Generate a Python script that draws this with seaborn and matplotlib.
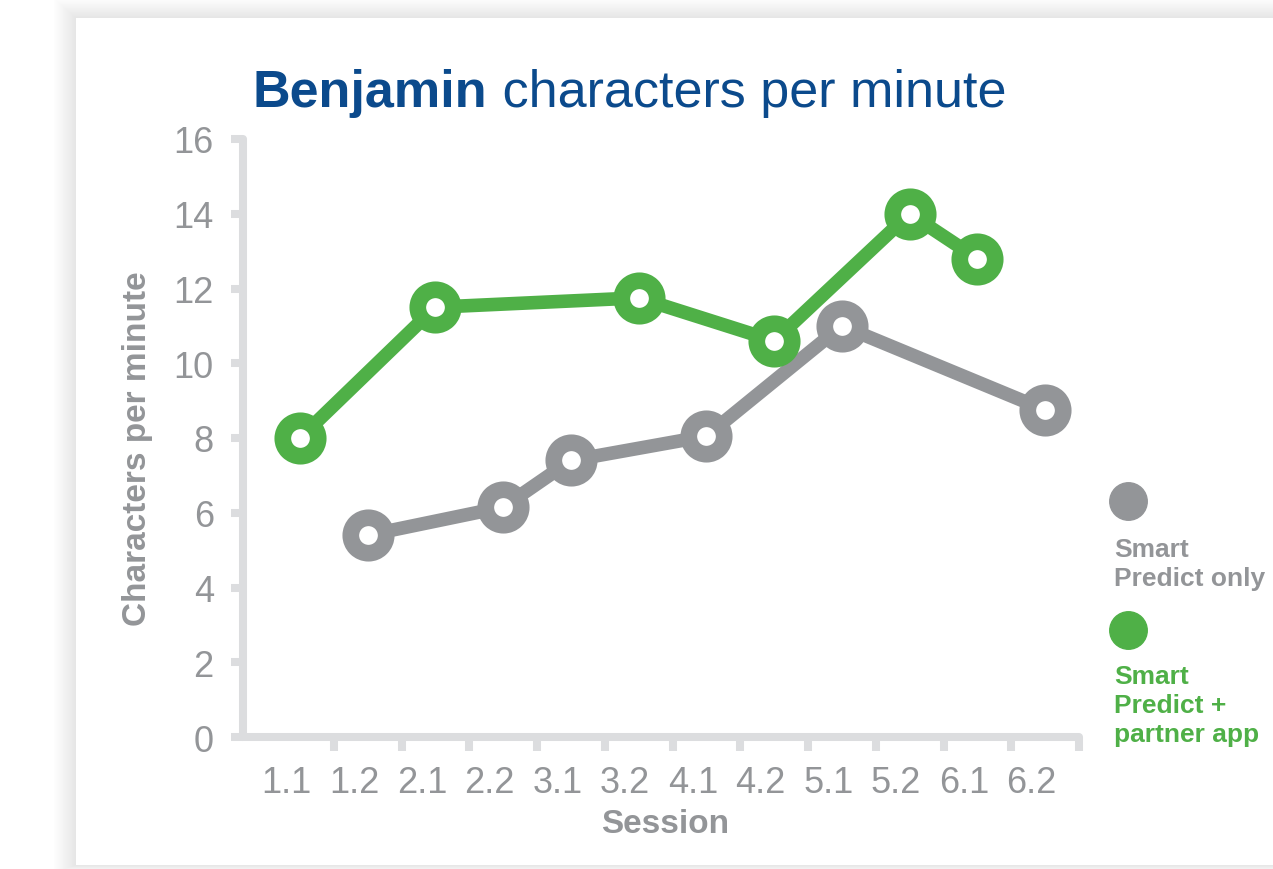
#!/usr/bin/env python3
"""
Benjamin characters per minute - line chart recreation
"""

import numpy as np
import pandas as pd
import matplotlib
matplotlib.use('Agg')
import matplotlib.pyplot as plt
import seaborn as sns
from matplotlib import font_manager
from matplotlib.patches import Rectangle
from matplotlib.lines import Line2D

# Data
sessions = ['1.1', '1.2', '2.1', '2.2', '3.1', '3.2', '4.1', '4.2', '5.1', '5.2', '6.1', '6.2']
smart_only_sessions = ['1.2', '2.2', '3.1', '4.1', '5.1', '6.2']
smart_only_cpm = [5.4, 6.15, 7.4, 8.05, 11.0, 8.75]
partner_sessions = ['1.1', '2.1', '3.2', '4.2', '5.2', '6.1']
partner_cpm = [8.0, 11.5, 11.75, 10.6, 14.0, 12.8]
y_ticks = [0, 2, 4, 6, 8, 10, 12, 14, 16]

GREY = '#939598'
GREEN = '#4fb047'
BLUE = '#0b4a8c'
AXIS = '#dcdddf'

W, H = 1273, 870


def fx(px):
    return px / W


def fy(py):
    return 1 - py / H


def pick_font(candidates):
    names = {f.name for f in font_manager.fontManager.ttflist}
    for c in candidates:
        if c in names:
            return c
    return 'DejaVu Sans'


def build_frame():
    pos = {s: i for i, s in enumerate(sessions)}
    a = pd.DataFrame({'session': smart_only_sessions, 'cpm': smart_only_cpm,
                      'series': 'Smart Predict only'})
    b = pd.DataFrame({'session': partner_sessions, 'cpm': partner_cpm,
                      'series': 'Smart Predict + partner app'})
    df = pd.concat([a, b], ignore_index=True)
    df['pos'] = df['session'].map(pos)
    return df


def main():
    sns.set_style('white')
    base = pick_font(['Liberation Sans', 'Arial', 'DejaVu Sans'])
    plt.rcParams['font.family'] = [base, 'DejaVu Sans']

    df = build_frame()

    fig = plt.figure(figsize=(W / 100, H / 100), dpi=100, facecolor='white')

    # card with soft shadow
    x0, y0, x1, y1 = 76, 19, 1300, 866
    for k in range(1, 26):
        fig.patches.append(Rectangle((fx(x0 - k * 0.9), fy(y1 + k * 0.3)),
                                     fx(x1 - x0 + 2 * k), (y1 - y0 + k * 1.1) / H,
                                     transform=fig.transFigure, facecolor='black',
                                     edgecolor='none', alpha=0.0045, zorder=-20))
    fig.patches.append(Rectangle((fx(x0), fy(y1)), fx(x1 - x0), (y1 - y0) / H,
                                 transform=fig.transFigure, facecolor='white',
                                 edgecolor='none', zorder=-10))

    ax = fig.add_axes([fx(243), fy(738), fx(1079 - 243), (738 - 140) / H])
    ax.set_facecolor('none')

    for name, color in [('Smart Predict only', GREY), ('Smart Predict + partner app', GREEN)]:
        sub = df[df['series'] == name]
        sns.lineplot(data=sub, x='pos', y='cpm', ax=ax, color=color, lw=9.8,
                     marker='o', markersize=25.5, markeredgewidth=12,
                     markerfacecolor='white', markeredgecolor=color,
                     solid_capstyle='round', solid_joinstyle='round',
                     legend=False, clip_on=False, zorder=3)

    ax.set_xlim(-0.84, 11.5)
    ax.set_ylim(0, 16)

    # axes styling
    for s in ['top', 'right']:
        ax.spines[s].set_visible(False)
    for s in ['left', 'bottom']:
        ax.spines[s].set_color(AXIS)
        ax.spines[s].set_linewidth(5.8)
        ax.spines[s].set_capstyle('round')

    ax.set_yticks(y_ticks)
    ax.set_yticklabels([str(v) for v in y_ticks])
    ax.set_xticks(np.arange(len(sessions)) + 0.5)
    ax.set_xticklabels([])
    ax.set_xticks(np.arange(len(sessions)) - 0.2, minor=True)
    ax.set_xticklabels(sessions, minor=True)

    ax.tick_params(axis='y', which='major', length=9, width=5.8, color=AXIS,
                   labelcolor=GREY, labelsize=26, pad=12, left=True)
    ax.tick_params(axis='x', which='major', length=10, width=5.8, color=AXIS,
                   bottom=True)
    ax.tick_params(axis='x', which='minor', length=0, labelcolor=GREY,
                   labelsize=26, pad=20, bottom=True)

    ax.set_xlabel('Session', fontsize=24, fontweight='bold', color=GREY)
    ax.set_ylabel('Characters per minute', fontsize=24, fontweight='bold', color=GREY)
    ax.xaxis.set_label_coords((665 - 243) / 836, (738 - 825) / 598)
    ax.xaxis.label.set_va('center')
    ax.yaxis.set_label_coords((137 - 243) / 836, (738 - 449) / 598)
    ax.yaxis.label.set_va('center')

    # title: bold name + regular rest
    t1 = fig.text(fx(253), fy(118), 'Benjamin', fontsize=37.5, fontweight='bold',
                  color=BLUE, ha='left', va='bottom')
    ax.annotate(' characters per minute', xy=(1, 0), xycoords=t1, fontsize=37.5,
                color=BLUE, ha='left', va='bottom', annotation_clip=False)

    # legend
    for (py, color) in [(502, GREY), (631, GREEN)]:
        fig.add_artist(Line2D([fx(1128)], [fy(py)], transform=fig.transFigure,
                              marker='o', markersize=27, color=color, lw=0))
    fig.text(fx(1114), fy(538), 'Smart\nPredict only', fontsize=19, fontweight='bold',
             color=GREY, ha='left', va='top', linespacing=1.27)
    fig.text(fx(1114), fy(665), 'Smart\nPredict +\npartner app', fontsize=19,
             fontweight='bold', color=GREEN, ha='left', va='top', linespacing=1.27)

    plt.savefig('out.png', dpi=100, facecolor='white')
    plt.close()


if __name__ == '__main__':
    main()
